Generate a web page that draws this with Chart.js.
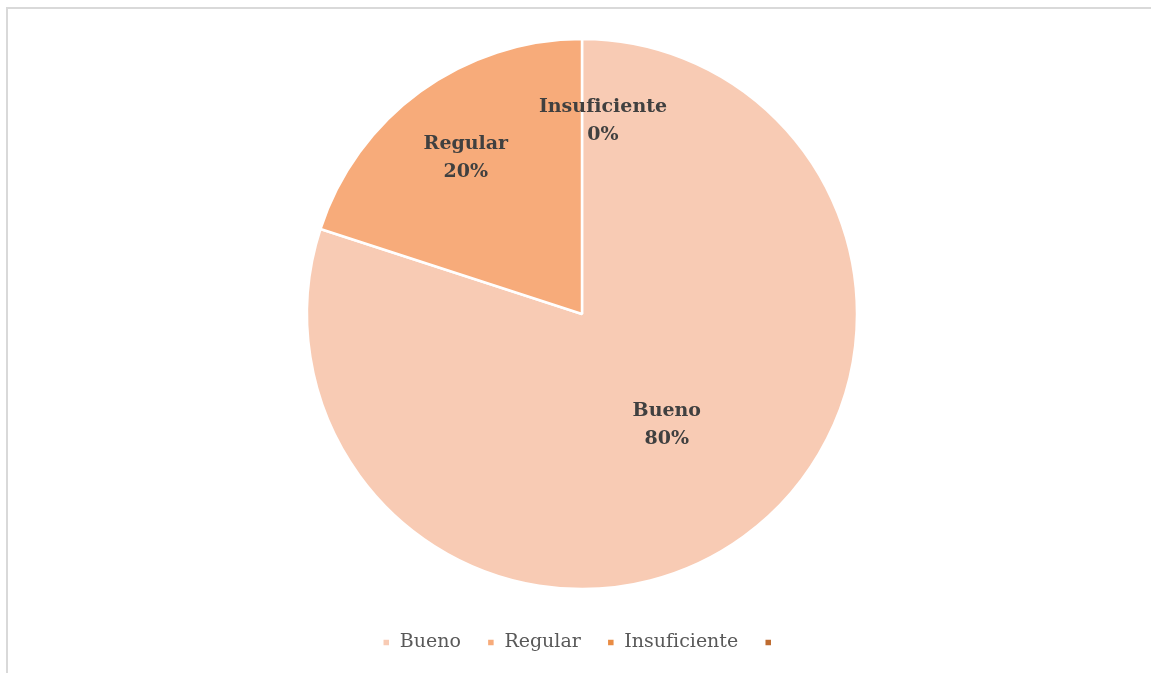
<!DOCTYPE html>
<html lang="es">
<head>
  <meta charset="UTF-8" />
  <title>Valoración</title>
  <script src="https://cdn.jsdelivr.net/npm/chart.js"></script>
  <style>
    html, body { margin: 0; padding: 0; background: #fff; overflow: hidden; }
    .marco {
      position: absolute; left: 6px; top: 7px; right: 0; bottom: 0;
      border-left: 2px solid #d9d9d9; border-top: 2px solid #d9d9d9;
    }
  </style>
</head>
<body>
  <div class="marco"><canvas id="grafico"></canvas></div>

  <script>
    const categorias = ["Bueno", "Regular", "Insuficiente", ""];
    const valores = [80, 20, 0, 0];
    const colores = ["#F8CBB4", "#F7AB7A", "#E98C44", "#BE6B30"];
    // distancia de la etiqueta al centro (fracción del radio) y desplazamiento horizontal
    const posEtiqueta = [0.5, 0.7, 0.7, 0.7];
    const despX = [4, -3, 21, 0];

    const etiquetas = {
      id: "etiquetas",
      afterDatasetsDraw(chart) {
        const ctx = chart.ctx;
        const arcos = chart.getDatasetMeta(0).data;
        const total = valores.reduce((a, b) => a + b, 0);
        ctx.save();
        ctx.font = "bold 19px 'DejaVu Serif'";
        ctx.fillStyle = "#404040";
        ctx.textAlign = "center";
        ctx.textBaseline = "middle";
        arcos.forEach((arco, i) => {
          if (!categorias[i]) return;
          const p = arco.getProps(["x", "y", "startAngle", "endAngle", "outerRadius"], true);
          const ang = (p.startAngle + p.endAngle) / 2;
          const r = p.outerRadius * posEtiqueta[i];
          const x = p.x + Math.cos(ang) * r + despX[i];
          const y = p.y + Math.sin(ang) * r;
          const pct = Math.round(valores[i] / total * 100) + "%";
          ctx.fillText(categorias[i], x, y - 14);
          ctx.fillText(pct, x, y + 14);
        });
        ctx.restore();
      }
    };

    new Chart(document.getElementById("grafico"), {
      type: "pie",
      data: {
        labels: categorias,
        datasets: [{
          data: valores,
          backgroundColor: colores,
          borderColor: "#ffffff",
          borderWidth: 2.5,
          radius: 275
        }]
      },
      options: {
        responsive: true,
        maintainAspectRatio: false,
        animation: false,
        layout: { padding: { left: 5, top: 12, bottom: 11 } },
        plugins: {
          tooltip: { enabled: false },
          legend: {
            position: "bottom",
            labels: {
              boxWidth: 8,
              boxHeight: 8,
              padding: 26,
              color: "#595959",
              font: { family: "'DejaVu Serif'", size: 19 }
            }
          }
        }
      },
      plugins: [etiquetas]
    });
  </script>
</body>
</html>
